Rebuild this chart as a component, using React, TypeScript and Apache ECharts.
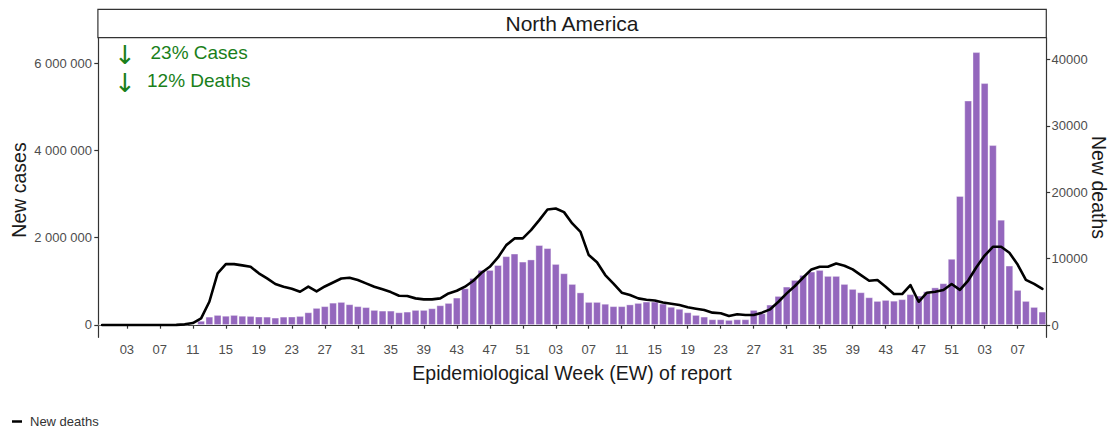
import React, { useEffect, useRef } from "react";
import * as echarts from "echarts";

// Epidemiological weeks: one week before 2020-01, then 2020 w1-52, 2021 w1-52, 2022 w1-10
const firstWeek = "2019-52";
const yearWeeks: [number, number][] = [
  [2020, 52],
  [2021, 52],
  [2022, 10],
];

const casesPre = [0];
const cases2020 = [
  0, 0, 0, 0, 0, 0, 0, 0, 100, 1000, 15000, 95000, 190000, 229000, 210000, 229000, 210000,
  206000, 192000, 190000, 168000, 190000, 192000, 206000, 290000, 390000, 430000, 510000,
  527000, 474000, 430000, 408000, 344000, 328000, 328000, 290000, 305000, 344000, 344000,
  382000, 451000, 504000, 626000, 840000, 1075000, 1260000, 1260000, 1372000, 1575000,
  1635000, 1451000, 1500000,
];
const cases2021 = [
  1830000, 1760000, 1397000, 1184000, 939000, 745000, 527000, 527000, 485000, 430000,
  430000, 470000, 504000, 535000, 535000, 489000, 415000, 370000, 290000, 229000,
  191000, 130000, 130000, 115000, 130000, 130000, 344000, 267000, 466000, 664000,
  878000, 1031000, 1145000, 1222000, 1260000, 1123000, 1123000, 939000, 825000, 749000,
  634000, 550000, 573000, 555000, 590000, 705000, 672000, 770000, 860000, 955000,
  1515000, 2955000,
];
const cases2022 = [5140000, 6250000, 5540000, 4120000, 2410000, 1360000, 802000, 550000, 412000, 305000];

const deathsPre = [0];
const deaths2020 = [
  0, 0, 0, 0, 0, 0, 0, 0, 20, 100, 300, 1000, 3500, 7780, 9170, 9170, 8980, 8770, 7780, 7020,
  6170, 5770, 5460, 5010, 5770, 5060, 5800, 6400, 7000, 7120, 6770, 6270, 5770, 5370, 4960,
  4410, 4360, 4010, 3860, 3860, 4010, 4760, 5160, 5770, 6670, 7870, 8770, 10180, 12030,
  13040, 13040, 14290,
];
const deaths2021 = [
  15790, 17400, 17550, 17000, 15300, 14030, 10530, 9450, 7520, 6220,
  4860, 4510, 4010, 3800, 3700, 3400, 3200, 3010, 2660, 2460,
  2260, 1860, 1760, 1350, 1610, 1500, 1500, 1860, 2360, 3500,
  4760, 5870, 7150, 8370, 8770, 8770, 9270, 8920, 8370, 7520,
  6670, 6770, 5770, 4660, 4660, 6020, 3500, 4860, 5010, 5260,
  6170, 5300,
];
const deaths2022 = [6700, 8700, 10450, 11780, 11780, 10880, 9100, 6800, 6200, 5450];

const leftTicks = [0, 2000000, 4000000, 6000000];
const rightTicks = [0, 10000, 20000, 30000, 40000];

const FONT = "'Liberation Sans', Arial, Helvetica, sans-serif";
const ARROW_FONT = "'DejaVu Sans', sans-serif";

function buildCategories(): string[] {
  const cats = [firstWeek];
  for (const [y, n] of yearWeeks) {
    for (let w = 1; w <= n; w++) cats.push(`${y}-${String(w).padStart(2, "0")}`);
  }
  return cats;
}

const spaced = (v: number) => String(v).replace(/\B(?=(\d{3})+(?!\d))/g, " ");

export default function App() {
  const ref = useRef<HTMLDivElement>(null);

  useEffect(() => {
    if (!ref.current) return;
    const chart = echarts.init(ref.current, undefined, { renderer: "svg" });
    const categories = buildCategories();
    const cases = [...casesPre, ...cases2020, ...cases2021, ...cases2022];
    const deaths = [...deathsPre, ...deaths2020, ...deaths2021, ...deaths2022];
    const showWeek = (_i: number, value: string) => Number(String(value).slice(5)) % 4 === 3;
    const axisLineStyle = { color: "#333333", width: 1.2 };
    const labelStyle = { color: "#4d4d4d", fontSize: 13, fontFamily: FONT };
    const green = "#1a7f1a";

    chart.setOption({
      animation: false,
      textStyle: { fontFamily: FONT },
      grid: { left: 98, right: 63.5, top: 37.7, bottom: 92.7, containLabel: false },
      legend: {
        data: [{ name: "New deaths", icon: "rect" }],
        left: 7,
        top: 410,
        itemWidth: 10,
        itemHeight: 2.5,
        selectedMode: false,
        textStyle: { fontSize: 13, color: "#333333", fontFamily: FONT, padding: [0, 0, 0, 3] },
      },
      xAxis: {
        type: "category",
        data: categories,
        boundaryGap: true,
        axisLine: { show: true, lineStyle: axisLineStyle },
        axisTick: { show: true, interval: showWeek, alignWithLabel: true, length: 3.7, lineStyle: axisLineStyle },
        axisLabel: {
          ...labelStyle,
          interval: showWeek,
          margin: 6,
          formatter: (v: string) => v.slice(5),
        },
        splitLine: { show: false },
      },
      yAxis: [
        {
          type: "value",
          position: "left",
          min: -281800,
          max: 6582000,
          splitLine: { show: false },
          axisLine: { show: true, lineStyle: axisLineStyle },
          axisTick: { show: true, length: 3.7, customValues: leftTicks, lineStyle: axisLineStyle },
          axisLabel: { ...labelStyle, customValues: leftTicks, margin: 6, formatter: (v: number) => spaced(v) },
        },
        {
          type: "value",
          position: "right",
          min: -1852,
          max: 43268,
          splitLine: { show: false },
          axisLine: { show: true, lineStyle: axisLineStyle },
          axisTick: { show: true, length: 3.7, customValues: rightTicks, lineStyle: axisLineStyle },
          axisLabel: { ...labelStyle, customValues: rightTicks, margin: 5, formatter: (v: number) => String(v) },
        },
      ],
      series: [
        {
          type: "bar",
          name: "New cases",
          data: cases,
          yAxisIndex: 0,
          barCategoryGap: "8%",
          itemStyle: { color: "#9467bd", borderColor: "rgba(255,255,255,0.45)", borderWidth: 0.8 },
        },
        {
          type: "line",
          name: "New deaths",
          data: deaths,
          yAxisIndex: 1,
          symbol: "none",
          showSymbol: false,
          color: "#000000",
          lineStyle: { color: "#000000", width: 2.6, join: "round", cap: "round" },
          z: 5,
        },
      ],
      graphic: [
        {
          type: "rect",
          shape: { x: 97.9, y: 9.3, width: 948.4, height: 28.4 },
          style: { fill: "#ffffff", stroke: "#333333", lineWidth: 1.2 },
        },
        {
          type: "text",
          x: 572,
          y: 23.5,
          style: { text: "North America", fontSize: 21, fill: "#1a1a1a", align: "center", verticalAlign: "middle", fontFamily: FONT },
        },
        {
          type: "text",
          x: 125,
          y: 55,
          style: { text: "↓", fontSize: 26, fill: green, align: "center", verticalAlign: "middle", fontFamily: ARROW_FONT },
        },
        {
          type: "text",
          x: 125,
          y: 83,
          style: { text: "↓", fontSize: 26, fill: green, align: "center", verticalAlign: "middle", fontFamily: ARROW_FONT },
        },
        {
          type: "text",
          x: 150.5,
          y: 52,
          style: { text: "23% Cases", fontSize: 19, fill: green, align: "left", verticalAlign: "middle", fontFamily: FONT },
        },
        {
          type: "text",
          x: 147,
          y: 80,
          style: { text: "12% Deaths", fontSize: 19, fill: green, align: "left", verticalAlign: "middle", fontFamily: FONT },
        },
        {
          type: "text",
          x: 19,
          y: 190,
          rotation: Math.PI / 2,
          style: { text: "New cases", fontSize: 19.5, fill: "#1a1a1a", align: "center", verticalAlign: "middle", fontFamily: FONT },
        },
        {
          type: "text",
          x: 1099,
          y: 187.5,
          rotation: -Math.PI / 2,
          style: { text: "New deaths", fontSize: 19.5, fill: "#1a1a1a", align: "center", verticalAlign: "middle", fontFamily: FONT },
        },
        {
          type: "text",
          x: 572,
          y: 373,
          style: {
            text: "Epidemiological Week (EW) of report",
            fontSize: 19.5,
            fill: "#1a1a1a",
            align: "center",
            verticalAlign: "middle",
            fontFamily: FONT,
          },
        },
      ],
    });

    return () => chart.dispose();
  }, []);

  return (
    <div
      ref={ref}
      style={{ position: "fixed", left: 0, top: 0, width: 1110, height: 430, background: "#ffffff" }}
    />
  );
}
